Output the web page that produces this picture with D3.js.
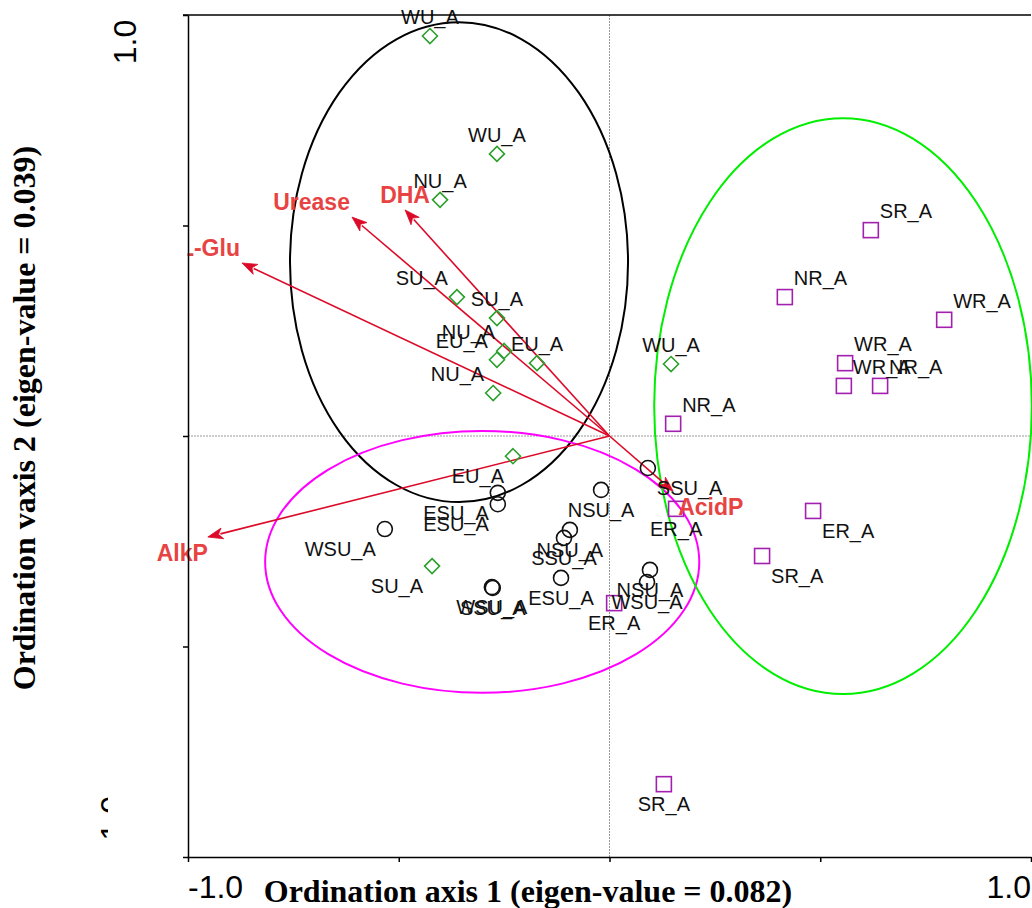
<!DOCTYPE html>
<html><head><meta charset="utf-8">
<script src="https://cdn.jsdelivr.net/npm/d3@7"></script>
<style>body{margin:0;background:#fff}svg{display:block}</style>
</head><body>
<script>
// ---------------- DATA ----------------
// Group U (green diamonds)
const uNames = ["WU_A","WU_A","NU_A","SU_A","SU_A","NU_A","EU_A","EU_A","NU_A","EU_A","SU_A","WU_A"];
const uX = [-0.426,-0.267,-0.402,-0.362,-0.267,-0.250,-0.267,-0.172,-0.276,-0.229,-0.421,0.146];
const uY = [0.950,0.670,0.561,0.330,0.280,0.202,0.181,0.173,0.102,-0.048,-0.309,0.171];
const uLabelPos = ["t","t","t","tl","t","tl","tl","t","tl","bl","bl","t"];

// Group R (purple squares)
const rNames = ["SR_A","NR_A","WR_A","WR_A","WR_A","NR_A","NR_A","ER_A","ER_A","SR_A","ER_A","SR_A"];
const rX = [0.620,0.416,0.794,0.559,0.556,0.642,0.151,0.158,0.483,0.362,0.011,0.129];
const rY = [0.489,0.330,0.276,0.173,0.119,0.119,0.029,-0.173,-0.178,-0.285,-0.397,-0.827];
const rLabelPos = ["tr","tr","tr","tr","tr","tr","tr","b","br","br","b","b"];

// Group SU (black circles)
const suNames = ["SSU_A","NSU_A","ESU_A","ESU_A","WSU_A","NSU_A","SSU_A","ESU_A","WSU_A","SSU_A","NSU_A","WSU_A"];
const suX = [0.091,-0.020,-0.265,-0.265,-0.533,-0.094,-0.108,-0.115,-0.279,-0.277,0.096,0.089];
const suY = [-0.076,-0.128,-0.135,-0.162,-0.221,-0.223,-0.242,-0.337,-0.359,-0.361,-0.318,-0.347];
const suLabelPos = ["br","b","bl","bl","bl","b","b","b","b","b","b","b"];

// Environmental vectors (enzymes)
const envNames = ["Urease","DHA","L-Glu","AlkP","AcidP"];
const envX = [-0.611,-0.485,-0.872,-0.953,0.151];
const envY = [0.520,0.537,0.411,-0.240,-0.131];
const envLabelPos = ["tl","t","tl","bl","br"];

// Group ellipses: black (U), magenta (SU), green (R)
const ellipseCX = [-0.357,-0.302,0.554];
const ellipseCY = [0.413,-0.299,0.071];
const ellipseRX = [0.401,0.515,0.448];
const ellipseRY = [0.570,0.311,0.684];
const ellipseColors = ["#000000","#ff00ff","#00ee00"];

// Axes
const tickValues = [-1,-0.5,0,0.5,1];
const xTickLabels = ["-1.0","1.0"];
const yTickLabels = ["-1.0","1.0"];
const xTitle = "Ordination axis 1 (eigen-value = 0.082)";
const yTitle = "Ordination vaxis 2 (eigen-value = 0.039)";

// ---------------- DRAW ----------------
const W = 1032, H = 908;
const svg = d3.select("body").append("svg").attr("width", W).attr("height", H);
const x = d3.scaleLinear().domain([-1,1]).range([188,1031]);
const y = d3.scaleLinear().domain([-1,1]).range([857,15]);

const sans = "'Liberation Sans', Arial, sans-serif";
const serif = "'Liberation Serif', 'Times New Roman', serif";

const defs = svg.append("defs");
defs.append("clipPath").attr("id","inplot").append("rect")
  .attr("x", 187.5).attr("y", 0).attr("width", W).attr("height", H);
defs.append("clipPath").attr("id","leftcut").append("rect")
  .attr("x", 0).attr("y", 0).attr("width", 108).attr("height", H);

// reference lines through origin
svg.append("line").attr("x1", x(0)).attr("x2", x(0)).attr("y1", y(1)).attr("y2", y(-1))
  .attr("stroke", "#999").attr("stroke-width", 1).attr("stroke-dasharray", "2,1");
svg.append("line").attr("x1", x(-1)).attr("x2", x(1)).attr("y1", y(0)).attr("y2", y(0))
  .attr("stroke", "#999").attr("stroke-width", 1).attr("stroke-dasharray", "2,1");

// ellipses
svg.append("g").selectAll("ellipse").data(ellipseCX.map((d,i)=>i)).join("ellipse")
  .attr("cx", i => x(ellipseCX[i])).attr("cy", i => y(ellipseCY[i]))
  .attr("rx", i => x(ellipseRX[i]) - x(0)).attr("ry", i => y(0) - y(ellipseRY[i]))
  .attr("fill", "none").attr("stroke", i => ellipseColors[i]).attr("stroke-width", 2);

// arrows
const arrowColor = "#dc0a28";
const envG = svg.append("g");
envNames.forEach((n,i) => {
  const x0 = x(0), y0 = y(0), x1 = x(envX[i]), y1 = y(envY[i]);
  const dx = x1 - x0, dy = y1 - y0, len = Math.hypot(dx, dy);
  const ux = dx/len, uy = dy/len, L = 15, hw = 5.5;
  const bx = x1 - ux*L, by = y1 - uy*L;
  envG.append("line").attr("x1", x0).attr("y1", y0).attr("x2", bx + ux*2).attr("y2", by + uy*2)
    .attr("stroke", arrowColor).attr("stroke-width", 1.6);
  envG.append("path")
    .attr("d", `M${x1},${y1}L${bx - uy*hw},${by + ux*hw}L${bx + ux*4},${by + uy*4}L${bx + uy*hw},${by - ux*hw}Z`)
    .attr("fill", arrowColor).attr("stroke", arrowColor).attr("stroke-width", 0.8);
});

// points
const green = "#2ca02c", purple = "#a21fb0";
function labelAttrs(sel, px, py, pos, gap) {
  let anchor = "middle", tx = px, ty;
  if (pos[0] === "t") ty = py - 12; else ty = py + 27;
  if (pos.length > 1) {
    if (pos[1] === "l") { anchor = "end"; tx = px - gap; }
    else { anchor = "start"; tx = px + gap; }
  }
  sel.attr("x", tx).attr("y", ty).attr("text-anchor", anchor);
}

const ptG = svg.append("g");
// circles
suX.forEach((v,i) => {
  ptG.append("circle").attr("cx", x(v)).attr("cy", y(suY[i])).attr("r", 7.5)
    .attr("fill", "none").attr("stroke", "#111").attr("stroke-width", 1.6);
});
// diamonds
uX.forEach((v,i) => {
  const cx = x(v), cy = y(uY[i]), r = 7.5;
  ptG.append("path").attr("d", `M${cx},${cy-r}L${cx+r},${cy}L${cx},${cy+r}L${cx-r},${cy}Z`)
    .attr("fill", "none").attr("stroke", green).attr("stroke-width", 1.6);
});
// squares
rX.forEach((v,i) => {
  const cx = x(v), cy = y(rY[i]), s = 7.5;
  ptG.append("rect").attr("x", cx - s).attr("y", cy - s).attr("width", 2*s).attr("height", 2*s)
    .attr("fill", "none").attr("stroke", purple).attr("stroke-width", 1.6);
});

// point labels
const labG = svg.append("g").attr("font-family", sans).attr("font-size", 20).attr("fill", "#111");
[[uNames,uX,uY,uLabelPos],[rNames,rX,rY,rLabelPos],[suNames,suX,suY,suLabelPos]].forEach(([names,xs,ys,pos]) => {
  names.forEach((n,i) => {
    labG.append("text").text(n).call(labelAttrs, x(xs[i]), y(ys[i]), pos[i], 9);
  });
});

// vector labels
const envLab = svg.append("g").attr("font-family", sans).attr("font-size", 23)
  .attr("font-weight", "bold").attr("fill", "#e84343");
envNames.forEach((n,i) => {
  const px = x(envX[i]), py = y(envY[i]), pos = envLabelPos[i];
  let anchor = "middle", tx = px, ty = py - 7;
  if (pos === "tl") { anchor = "end"; tx = px - 2; ty = py - 7; }
  if (pos === "bl") { anchor = "end"; tx = px; ty = py + 24; }
  if (pos === "br") { anchor = "start"; tx = px + 5; ty = py + 24; }
  const t = envLab.append("text").text(n).attr("x", tx).attr("y", ty).attr("text-anchor", anchor);
  if (n === "L-Glu") t.attr("clip-path", "url(#inplot)");
});

// axes
const axL = svg.append("g").attr("transform", `translate(${x(-1)},0)`)
  .call(d3.axisLeft(y).tickValues(tickValues).tickSize(5).tickSizeOuter(0).tickFormat(""));
const axB = svg.append("g").attr("transform", `translate(0,${y(-1)})`)
  .call(d3.axisBottom(x).tickValues(tickValues).tickSize(5).tickSizeOuter(0).tickFormat(""));
[axL, axB].forEach(a => {
  a.selectAll("path,line").attr("stroke", "#000").attr("stroke-width", 1.5);
});
// top frame line
svg.append("line").attr("x1", x(-1) - 5).attr("x2", x(1)).attr("y1", y(1)).attr("y2", y(1))
  .attr("stroke", "#000").attr("stroke-width", 1.5);

// tick labels
const tl = svg.append("g").attr("font-family", sans).attr("font-size", 32).attr("fill", "#000");
tl.append("text").text(xTickLabels[0]).attr("x", x(-1)).attr("y", 898).attr("text-anchor", "start");
tl.append("text").text(xTickLabels[1]).attr("x", x(1)).attr("y", 898).attr("text-anchor", "end");
tl.append("text").text(yTickLabels[1]).attr("text-anchor", "middle")
  .attr("transform", `translate(136,${y(1) + 27}) rotate(-90)`);
// bottom y tick label: mostly hidden in the reference, only a sliver shows
tl.append("g").attr("clip-path", "url(#leftcut)")
  .append("text").text(yTickLabels[0]).attr("text-anchor", "end")
  .attr("transform", `translate(123,796) rotate(-90)`);

// axis titles
svg.append("text").text(xTitle).attr("font-family", serif).attr("font-weight", "bold")
  .attr("font-size", 32).attr("x", 528).attr("y", 902).attr("text-anchor", "middle");
svg.append("text").text(yTitle).attr("font-family", serif).attr("font-weight", "bold")
  .attr("font-size", 32).attr("text-anchor", "middle")
  .attr("transform", `translate(35,418) rotate(-90)`);
</script>
</body></html>
